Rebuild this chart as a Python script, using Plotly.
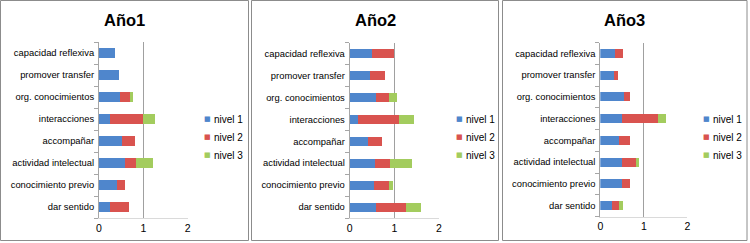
import plotly.graph_objects as go

categories = ["dar sentido", "conocimiento previo", "actividad intelectual", "accompañar",
              "interacciones", "org. conocimientos", "promover transfer", "capacidad reflexiva"]
series_names = ["nivel 1", "nivel 2", "nivel 3"]
panel_titles = ["Año1", "Año2", "Año3"]
x_ticks = [0, 1, 2]

ano1_nivel1 = [0.25, 0.41, 0.59, 0.51, 0.25, 0.47, 0.46, 0.35]
ano1_nivel2 = [0.43, 0.18, 0.24, 0.30, 0.75, 0.24, 0.00, 0.00]
ano1_nivel3 = [0.00, 0.00, 0.38, 0.00, 0.26, 0.06, 0.00, 0.00]

ano2_nivel1 = [0.60, 0.54, 0.57, 0.41, 0.18, 0.60, 0.46, 0.50]
ano2_nivel2 = [0.66, 0.34, 0.34, 0.31, 0.92, 0.27, 0.33, 0.50]
ano2_nivel3 = [0.34, 0.08, 0.48, 0.00, 0.34, 0.20, 0.00, 0.00]

ano3_nivel1 = [0.26, 0.51, 0.51, 0.42, 0.51, 0.54, 0.31, 0.34]
ano3_nivel2 = [0.17, 0.17, 0.33, 0.26, 0.82, 0.15, 0.09, 0.18]
ano3_nivel3 = [0.09, 0.00, 0.04, 0.00, 0.17, 0.00, 0.00, 0.00]

panels = [
    [ano1_nivel1, ano1_nivel2, ano1_nivel3],
    [ano2_nivel1, ano2_nivel2, ano2_nivel3],
    [ano3_nivel1, ano3_nivel2, ano3_nivel3],
]

colors = ["#4F86CC", "#D9534F", "#A3CC5E"]
W, H = 750, 243
FONT = "Liberation Sans, Arial, sans-serif"

# layout geometry in pixels
plot_x = [(99, 187.7), (349.7, 439.0), (600.3, 687.3)]
plot_y = [(42, 218), (42.5, 218), (42.5, 216.5)]
frame_x = [(0.5, 248.5), (251.5, 498.5), (502.5, 747)]
frame_y = (0.5, 240.5)
legend_marker_x = [207, 459, 706]
legend_rows_y = [119, 137, 155]
title_x = [124, 375, 624]


def px(x):
    return x / W


def py(y):
    return 1 - y / H


fig = go.Figure()
layout = dict(
    template="none",
    width=W, height=H, margin=dict(l=0, r=0, t=0, b=0, autoexpand=False),
    paper_bgcolor="white", plot_bgcolor="white",
    barmode="stack", bargap=0.59, showlegend=False,
    font=dict(family=FONT, color="#000000"),
)
shapes = []
annotations = []

for i, vals in enumerate(panels):
    xa = "x" if i == 0 else f"x{i+1}"
    ya = "y" if i == 0 else f"y{i+1}"
    for j, v in enumerate(vals):
        fig.add_trace(go.Bar(
            x=v, y=categories, orientation="h", name=series_names[j],
            marker=dict(color=colors[j], line=dict(width=0)),
            xaxis=xa, yaxis=ya, showlegend=False, hoverinfo="x+y+name",
        ))
    xk = "xaxis" if i == 0 else f"xaxis{i+1}"
    yk = "yaxis" if i == 0 else f"yaxis{i+1}"
    layout[xk] = dict(
        domain=[px(plot_x[i][0]), px(plot_x[i][1])], range=[0, 2],
        tickvals=x_ticks, ticktext=[str(t) for t in x_ticks],
        showgrid=True, gridcolor="#A0A0A0", gridwidth=1,
        zeroline=False, showline=True, linecolor="#DADADA", linewidth=1,
        ticks="", tickfont=dict(size=10.5, family=FONT, color="#000000"),
        anchor=ya, fixedrange=True, automargin=False,
    )
    layout[yk] = dict(
        domain=[py(plot_y[i][1]), py(plot_y[i][0])],
        type="category", categoryorder="array", categoryarray=categories,
        range=[-0.5, 7.5], showgrid=False, zeroline=False,
        showline=True, linecolor="#A6A6A6", linewidth=1,
        ticks="outside", tickson="boundaries", ticklen=4, tickcolor="#A6A6A6",
        tickfont=dict(size=9.4, family=FONT, color="#000000"),
        ticklabelstandoff=2,
        anchor=xa, fixedrange=True, automargin=False,
    )
    # legend drawn as text: coloured square glyph + series name
    for j in range(3):
        annotations.append(dict(
            text="■", xref="paper", yref="paper",
            x=px(legend_marker_x[i]), y=py(legend_rows_y[j]),
            xanchor="center", yanchor="middle", showarrow=False,
            font=dict(size=7, family="DejaVu Sans", color=colors[j]),
        ))
        annotations.append(dict(
            text=series_names[j], xref="paper", yref="paper",
            x=px(legend_marker_x[i] + 5), y=py(legend_rows_y[j]),
            xanchor="left", yanchor="middle", showarrow=False,
            font=dict(size=10, family=FONT, color="#000000"),
        ))
    shapes.append(dict(
        type="rect", xref="paper", yref="paper",
        x0=px(frame_x[i][0]), x1=px(frame_x[i][1]),
        y0=py(frame_y[1]), y1=py(frame_y[0]),
        line=dict(color="#8C8C8C", width=1), fillcolor="rgba(0,0,0,0)",
    ))
    annotations.append(dict(
        text=f"<b>{panel_titles[i]}</b>", xref="paper", yref="paper",
        x=px(title_x[i]), y=py(20), xanchor="center", yanchor="middle",
        showarrow=False, font=dict(size=16.5, family=FONT, color="#000000"),
    ))

layout["shapes"] = shapes
layout["annotations"] = annotations
fig.update_layout(**layout)
fig.write_html("out.html", config={"displayModeBar": False},
               post_script="document.body.style.margin='0';")
